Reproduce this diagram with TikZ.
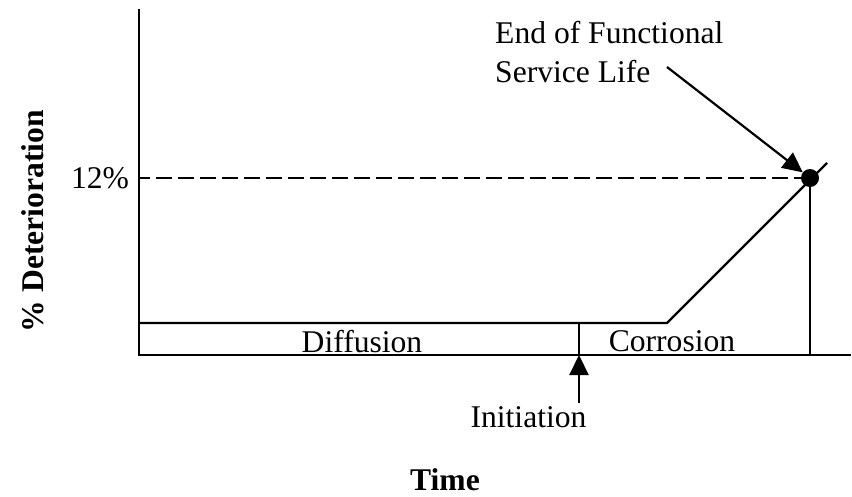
\documentclass[tikz,border=0pt]{standalone}
\usepackage{fontspec}
\setmainfont{Liberation Serif}
\usetikzlibrary{arrows.meta}
\tikzset{
  lbl/.style={inner sep=0pt, font=\fontsize{31.6}{38}\selectfont},
  blbl/.style={inner sep=0pt, font=\fontsize{31.6}{38}\selectfont\bfseries},
  ln/.style={line width=2.2pt},
  tip/.style={-{Triangle[length=20pt,width=19pt]}}
}
\begin{document}
\begin{tikzpicture}[x=1pt,y=-1pt]
\useasboundingbox (0,0) rectangle (852,496);
% coordinates
\coordinate (ytop) at (139,9);
\coordinate (orig) at (139,355);
\coordinate (xend) at (851,355);
\coordinate (lowstart) at (139,323);
\coordinate (bend) at (667,323);
\coordinate (diagend) at (827,163);
\coordinate (initTop) at (579,323);
\coordinate (initBot) at (579,355);
\coordinate (y12) at (139,178);
\coordinate (endBot) at (810,355);
\coordinate (arrStart) at (667,67);
\coordinate (initArrStart) at (579,403);
% axes
\draw[ln] (ytop) -- (orig) -- (xend);
% curve
\draw[ln] (lowstart) -- (bend) -- (diagend);
\draw[ln] (initTop) -- (initBot);
% dot
\node[circle, fill=black, inner sep=0pt, minimum size=18pt] (dot) at (810,178) {};
\draw[ln] (dot.center) -- (endBot);
\draw[ln, dash pattern=on 16pt off 6pt, dash phase=5pt] (y12) -- (dot.center);
% labels
\node[lbl, anchor=base] (p12) at (100,188) {12\%};
\node[blbl, anchor=base, rotate=90] (ylab) at (43,221) {\% Deterioration};
\node[blbl, anchor=base] (xlab) at (445,490) {Time};
\node[lbl, anchor=base west] (efl1) at (495,43) {End of Functional};
\node[lbl, anchor=base west] (efl2) at (495,82) {Service Life};
\node[lbl, anchor=base] (diff) at (362,352) {Diffusion};
\node[lbl, anchor=base] (corr) at (672,351) {Corrosion};
\node[lbl, anchor=base] (init) at (528.5,427) {Initiation};
% arrows
\draw[ln, tip] (arrStart) -- (dot);
\draw[ln, tip] (initArrStart) -- (initBot);
\end{tikzpicture}
\end{document}
